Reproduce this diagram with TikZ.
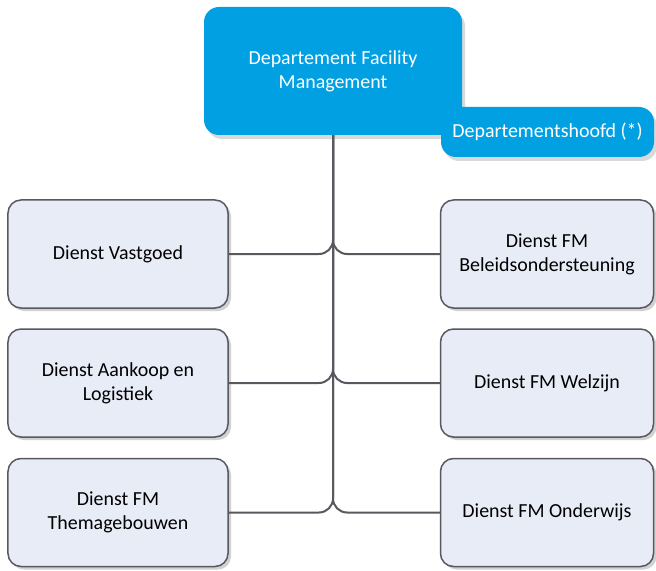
\documentclass[tikz,border=0pt]{standalone}
\usepackage{fontspec}
\setmainfont{Carlito}
\usetikzlibrary{shadows,positioning}

\definecolor{fmblue}{RGB}{0,160,227}
\definecolor{boxfill}{RGB}{232,236,247}
\definecolor{linegray}{RGB}{88,88,94}

\begin{document}
\begin{tikzpicture}[x=1bp,y=-1bp,
  dienst/.style={draw=linegray, line width=1.5bp, fill=boxfill, rounded corners=13bp,
    minimum height=108bp, inner sep=0pt, align=center,
    font=\fontsize{20}{24}\selectfont,
    drop shadow={shadow xshift=3bp, shadow yshift=-3bp, fill=black!18, opacity=1}},
  blok/.style={fill=fmblue, rounded corners=15bp, inner sep=0pt, align=center,
    text=white, font=\fontsize{20}{24}\selectfont,
    drop shadow={shadow xshift=3bp, shadow yshift=-4bp, fill=black!15, opacity=1}},
  conn/.style={draw=linegray, line width=2bp, rounded corners=14bp}]
\useasboundingbox (0,0) rectangle (656,571);

% departement en hoofd
\node[blok, minimum width=258bp, minimum height=128bp] (fm) at (333,71)
  {Departement Facility\\Management};
\node[blok, minimum width=213bp, minimum height=50bp] (hoofd) at (547.5,132)
  {Departementshoofd (*)};

% diensten links
\node[dienst, minimum width=220bp] (vastgoed) at (118,254) {Dienst Vastgoed};
\node[dienst, minimum width=220bp] (aankoop) at (118,383) {Dienst Aankoop en\\Logistiek};
\node[dienst, minimum width=220bp] (thema) at (118,512.5) {Dienst FM\\Themagebouwen};

% diensten rechts
\node[dienst, minimum width=213bp] (beleid) at (547,254) {Dienst FM\\Beleidsondersteuning};
\node[dienst, minimum width=213bp] (welzijn) at (547,383) {Dienst FM Welzijn};
\node[dienst, minimum width=213bp] (onderwijs) at (547,512.5) {Dienst FM Onderwijs};

\foreach \d in {vastgoed,aankoop,thema}
  \draw[conn] (\d.east) -| (fm.south);
\foreach \d in {beleid,welzijn,onderwijs}
  \draw[conn] (\d.west) -| (fm.south);
\end{tikzpicture}
\end{document}
